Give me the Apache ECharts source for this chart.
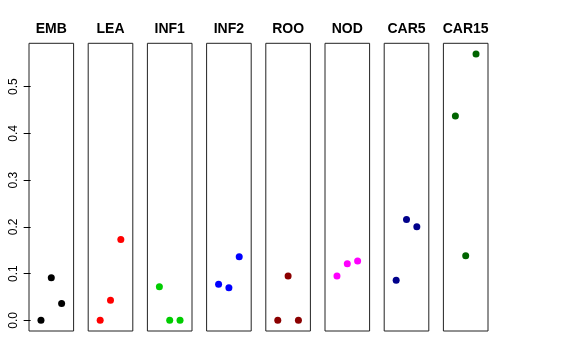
<!DOCTYPE html>
<html>
<head>
<meta charset="utf-8">
<script src="https://cdn.jsdelivr.net/npm/echarts@6/dist/echarts.min.js"></script>
<style>html,body{margin:0;padding:0;background:#fff}#c{width:576px;height:360px}</style>
</head>
<body>
<div id="c"></div>
<script>
var categories = ['EMB','LEA','INF1','INF2','ROO','NOD','CAR5','CAR15'];
var colors = ['#000000','#FF0000','#00CD00','#0000FF','#8B0000','#FF00FF','#00008B','#006400'];
var xPositions = [1, 2, 3];
var EMB = [0, 0.091, 0.036];
var LEA = [0, 0.043, 0.173];
var INF1 = [0.072, 0, 0];
var INF2 = [0.077, 0.070, 0.136];
var ROO = [0, 0.095, 0];
var NOD = [0.095, 0.121, 0.127];
var CAR5 = [0.086, 0.216, 0.200];
var CAR15 = [0.437, 0.138, 0.570];
var yTicks = [0, 0.1, 0.2, 0.3, 0.4, 0.5];
var seriesValues = [EMB, LEA, INF1, INF2, ROO, NOD, CAR5, CAR15];

var yMin = -0.0228, yMax = 0.5928;
var xMin = -0.16, xMax = 4.16;
var panelLeft0 = 29, panelStep = 59.2, panelW = 44.6, panelTop = 43.3, panelH = 287.7;

var grids = [], xAxes = [], yAxes = [], seriesList = [], titles = [];
categories.forEach(function (name, i) {
  var l = panelLeft0 + i * panelStep;
  grids.push({left: l, top: panelTop, width: panelW, height: panelH, show: true, borderColor: '#222', borderWidth: 1, backgroundColor: 'transparent'});
  xAxes.push({gridIndex: i, type: 'value', min: xMin, max: xMax, show: false});
  if (i === 0) {
    yAxes.push({
      gridIndex: 0, type: 'value', min: yMin, max: yMax,
      splitLine: {show: false},
      axisLine: {show: false},
      axisTick: {show: true, inside: false, length: 7, lineStyle: {color: '#000'}, customValues: yTicks},
      axisLabel: {show: true, rotate: 90, margin: 9, fontSize: 12, color: '#000', fontFamily: 'Liberation Sans, Arial, sans-serif',
        customValues: yTicks, formatter: function (v) { return Number(v).toFixed(1); }}
    });
  } else {
    yAxes.push({gridIndex: i, type: 'value', min: yMin, max: yMax, show: false, splitLine: {show: false}});
  }
  seriesList.push({
    type: 'scatter', xAxisIndex: i, yAxisIndex: i, symbolSize: 7, silent: true,
    itemStyle: {color: colors[i], opacity: 1},
    data: seriesValues[i].map(function (v, k) { return [xPositions[k], v]; })
  });
  titles.push({text: name, left: l + panelW / 2, top: 22, textAlign: 'center', padding: 0,
    textStyle: {fontSize: 14, fontWeight: 'bold', color: '#000', fontFamily: 'Liberation Sans, Arial, sans-serif'}});
});

var chart = echarts.init(document.getElementById('c'), null, {renderer: 'canvas'});
chart.setOption({animation: false, title: titles, grid: grids, xAxis: xAxes, yAxis: yAxes, series: seriesList});
</script>
</body>
</html>
